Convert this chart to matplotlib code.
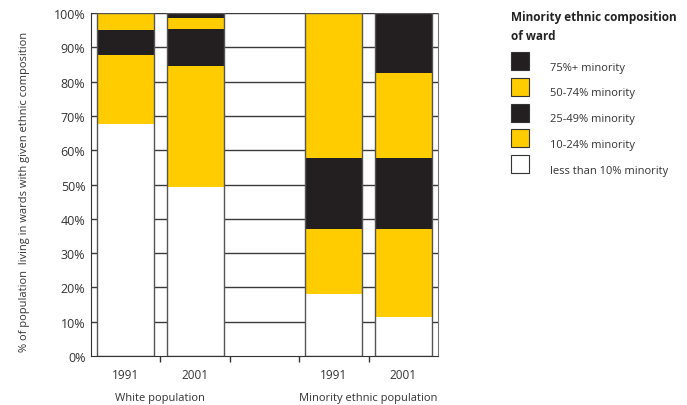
import numpy as np
import matplotlib.pyplot as plt
from matplotlib.patches import Rectangle

plt.rcParams['font.family'] = ['Open Sans', 'DejaVu Sans']

# bars: White 1991, White 2001, (empty), Minority 1991, Minority 2001
positions = [0, 1, 3, 4]
years = ['1991', '2001', '1991', '2001']
groups = ['White population', 'Minority ethnic population']
group_pos = [0.5, 3.5]

bands = ['less than 10% minority', '10-24% minority', '25-49% minority',
         '50-74% minority', '75%+ minority']
band_colors = ['#ffffff', '#ffcc00', '#231f20', '#ffcc00', '#231f20']
values = {
    'less than 10% minority': [67.5, 49.4, 18.1, 11.5],
    '10-24% minority':        [20.3, 35.2, 18.9, 25.5],
    '25-49% minority':        [7.2, 10.7, 20.7, 20.7],
    '50-74% minority':        [5.0, 3.2, 42.3, 24.8],
    '75%+ minority':          [0.0, 1.5, 0.0, 17.5],
}

txt = '#333333'
fig = plt.figure(figsize=(6.87, 4.06), dpi=100)
ax = fig.add_axes([0.1325, 0.1207, 0.5051, 0.8448])

width = 0.82
bottom = np.zeros(len(positions))
for band, col in zip(bands, band_colors):
    v = np.array(values[band])
    ax.bar(positions, v, width, bottom=bottom, color=col, edgecolor='none',
           zorder=2)
    bottom += v
ax.bar(positions, bottom, width, fill=False, edgecolor='#555555', lw=1.0,
       zorder=3)

ax.set_xlim(-0.5, 4.5)
ax.set_ylim(0, 100)
ax.set_yticks(np.arange(0, 101, 10))
ax.set_yticklabels([f'{t}%' for t in range(0, 101, 10)], fontsize=9, color=txt)
ax.tick_params(axis='y', length=0, pad=4)
for t in range(10, 101, 10):
    ax.axhline(t, color='#3a3a3a', lw=1.0, zorder=1)

ax.set_xticks([0.5, 1.5, 2.5, 3.5])
ax.set_xticklabels([])
ax.tick_params(axis='x', length=4, color='#333333', width=1)
for p, y in zip(positions, years):
    ax.text(p, -5.5, y, ha='center', va='center', fontsize=8.5, color=txt)
for p, g in zip(group_pos, groups):
    ax.text(p, -12, g, ha='center', va='center', fontsize=8, color=txt)

for s in ['left', 'bottom']:
    ax.spines[s].set_color('#333333')
ax.spines['top'].set_visible(False)
ax.spines['right'].set_color('#777777')

fig.text(25 / 687, 1 - 192 / 406,
         '% of population  living in wards with given ethnic composition',
         rotation=90, ha='center', va='center', fontsize=8, color=txt)

# legend
fig.text(511 / 687, 1 - 18 / 406, 'Minority ethnic composition',
         fontsize=8.5, fontweight='bold', color='#222222', va='center')
fig.text(511 / 687, 1 - 37 / 406, 'of ward',
         fontsize=8.5, fontweight='bold', color='#222222', va='center')
leg_bands = bands[::-1]
leg_cols = band_colors[::-1]
for i, (lab, col) in enumerate(zip(leg_bands, leg_cols)):
    ytop = 53 + i * 25.8
    fig.patches.append(Rectangle((511 / 687, 1 - (ytop + 18) / 406),
                                 18 / 687, 18 / 406, transform=fig.transFigure,
                                 facecolor=col, edgecolor='#333333', lw=0.8))
    fig.text(550 / 687, 1 - (ytop + 15) / 406, lab, fontsize=8,
             color=txt, va='center')

fig.savefig('out.png', dpi=100)
